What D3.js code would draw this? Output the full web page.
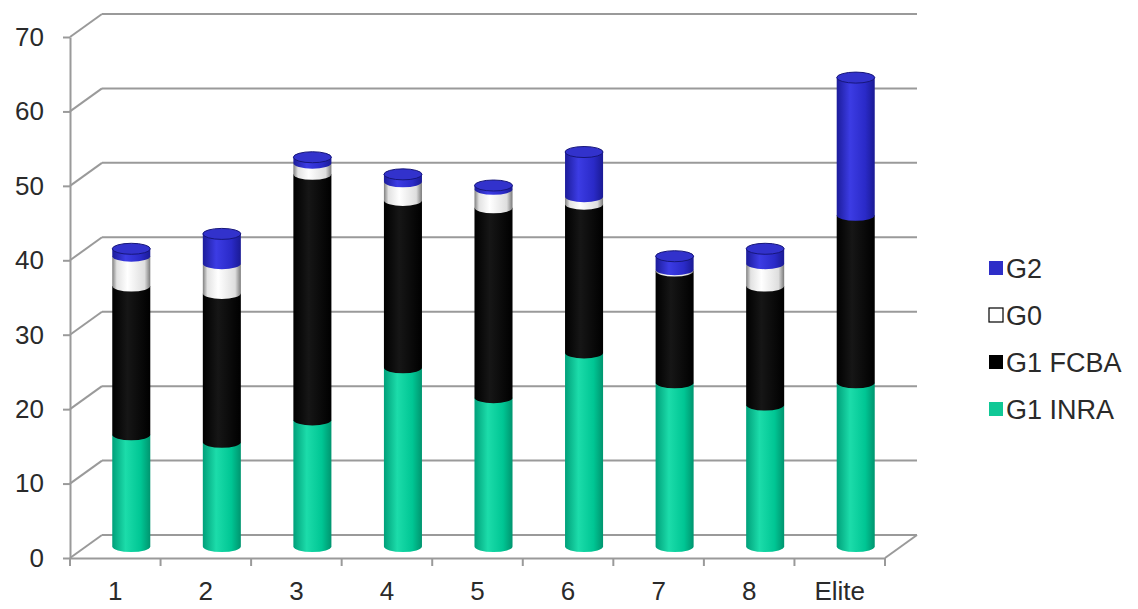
<!DOCTYPE html>
<html>
<head>
<meta charset="utf-8">
<script src="https://cdn.jsdelivr.net/npm/d3@7/dist/d3.min.js"></script>
<style>
  body { margin: 0; background: #fff; }
  text { font-family: "Liberation Sans", Arial, sans-serif; fill: #2a2a2a; }
</style>
</head>
<body>
<div class="chart"></div>
<script>
// data
var categories = ["1", "2", "3", "4", "5", "6", "7", "8", "Elite"];
var g1Inra = [15, 14, 17, 24, 20, 26, 22, 19, 22];
var g1Fcba = [20, 20, 33, 22.5, 25.5, 20, 15, 16, 22.5];
var g0 = [4, 4, 1.5, 2.5, 2.5, 1, 0.2, 3, 0];
var g2 = [1, 4, 0.8, 1, 0.5, 6, 1.8, 2, 18.5];
var yTicks = [0, 10, 20, 30, 40, 50, 60, 70];

var series = [
  {name: "G1 INRA", values: g1Inra, grad: "gGreen", cap: "#12cc98", capStroke: "#009570", key: "#10c896"},
  {name: "G1 FCBA", values: g1Fcba, grad: "gBlack", cap: "#111", capStroke: "#000", key: "#000"},
  {name: "G0", values: g0, grad: "gWhite", cap: "#f4f4f4", capStroke: "#777", key: "#fff"},
  {name: "G2", values: g2, grad: "gBlue", cap: "#3232cc", capStroke: "#16167a", key: "#2e2ec8"}
];

var W = 1138, H = 609;
var plotLeft = 70, plotRight = 885, plotBottom = 558, plotTop = 37;
var depthX = 32, depthY = 23; // back wall offset

var svg = d3.select(".chart").append("svg")
  .attr("width", W).attr("height", H);

// cylinder shading
var defs = svg.append("defs");
function gradient(id, stops) {
  var lg = defs.append("linearGradient").attr("id", id)
    .attr("x1", 0).attr("x2", 1).attr("y1", 0).attr("y2", 0);
  stops.forEach(function(s) {
    lg.append("stop").attr("offset", s[0]).attr("stop-color", s[1]);
  });
}
gradient("gGreen", [[0, "#00a07a"], [0.35, "#1cdcaa"], [0.75, "#00c694"], [1, "#00956f"]]);
gradient("gBlue", [[0, "#1c1c9a"], [0.35, "#3c3ce4"], [0.75, "#2a2ac8"], [1, "#1a1a94"]]);
gradient("gBlack", [[0, "#000"], [0.4, "#161616"], [1, "#000"]]);
gradient("gWhite", [[0, "#808080"], [0.12, "#e2e2e2"], [0.4, "#ffffff"], [0.85, "#dedede"], [1, "#7a7a7a"]]);

var x = d3.scaleBand().domain(categories).range([plotLeft, plotRight]);
var y = d3.scaleLinear().domain([0, 70]).range([plotBottom, plotTop]);

var gridColor = "#9a9a9a";

// back wall gridlines + side wall diagonals
var grid = svg.append("g").attr("class", "grid");
yTicks.forEach(function(t) {
  grid.append("line")
    .attr("x1", plotLeft).attr("y1", y(t))
    .attr("x2", plotLeft + depthX).attr("y2", y(t) - depthY);
  grid.append("line")
    .attr("x1", plotLeft + depthX).attr("y1", y(t) - depthY)
    .attr("x2", plotRight + depthX).attr("y2", y(t) - depthY);
});
// floor right edge
grid.append("line")
  .attr("x1", plotRight).attr("y1", plotBottom)
  .attr("x2", plotRight + depthX).attr("y2", plotBottom - depthY);
grid.selectAll("line").attr("stroke", gridColor).attr("stroke-width", 2);

// bars sit half way into the depth
var bw = x.bandwidth() * 0.42;
var rx = bw / 2, ry = 5.5;
var bars = svg.append("g").attr("class", "bars")
  .attr("transform", "translate(" + depthX / 2 + "," + (-depthY / 2) + ")");

categories.forEach(function(c, i) {
  var cx = x(c) + x.bandwidth() / 2;
  var cum = 0;
  var last = null;
  series.forEach(function(s) {
    var v = s.values[i];
    if (v <= 0) return;
    var y0 = y(cum), y1 = y(cum + v);
    cum += v;
    bars.append("path")
      .attr("d", "M" + (cx - rx) + "," + y1 +
        "L" + (cx - rx) + "," + y0 +
        "A" + rx + "," + ry + " 0 0 0 " + (cx + rx) + "," + y0 +
        "L" + (cx + rx) + "," + y1 + "Z")
      .attr("fill", "url(#" + s.grad + ")");
    last = {s: s, y: y1};
  });
  // top face of the stack
  bars.append("ellipse")
    .attr("cx", cx).attr("cy", last.y)
    .attr("rx", rx).attr("ry", ry)
    .attr("fill", last.s.cap)
    .attr("stroke", last.s.capStroke)
    .attr("stroke-width", 1);
});

// y axis (front edge)
var yAxis = svg.append("g")
  .attr("transform", "translate(" + plotLeft + ",0)")
  .call(d3.axisLeft(y).tickValues(yTicks).tickSize(7).tickSizeOuter(0).tickPadding(19));
yAxis.selectAll("text").style("font-size", "26px");

// x axis: labels centred, ticks on band boundaries
var xAxis = svg.append("g")
  .attr("transform", "translate(0," + plotBottom + ")")
  .call(d3.axisBottom(x).tickSize(0).tickSizeOuter(0).tickPadding(24));
xAxis.selectAll("text").style("font-size", "26px");
var bounds = categories.map(function(c) { return x(c); }).concat([plotRight]);
xAxis.selectAll(".bound")
  .data(bounds)
  .enter().append("line")
  .attr("class", "bound")
  .attr("x1", function(d) { return d; }).attr("x2", function(d) { return d; })
  .attr("y1", 0).attr("y2", 8);

svg.selectAll(".domain, .tick line, .bound")
  .attr("stroke", gridColor).attr("stroke-width", 2);

// legend
var legendItems = series.slice().reverse();
var legend = svg.append("g").attr("class", "legend")
  .attr("transform", "translate(989,268)");
var li = legend.selectAll("g")
  .data(legendItems)
  .enter().append("g")
  .attr("transform", function(d, i) { return "translate(0," + i * 47 + ")"; });
li.append("rect")
  .attr("x", 0).attr("y", -7).attr("width", 14).attr("height", 14)
  .attr("fill", function(d) { return d.key; })
  .attr("stroke", function(d) { return d.name == "G0" ? "#000" : "none"; })
  .attr("stroke-width", 1.2);
li.append("text")
  .attr("x", 17).attr("dy", "0.36em")
  .style("font-size", "27px")
  .text(function(d) { return d.name; });
</script>
</body>
</html>
